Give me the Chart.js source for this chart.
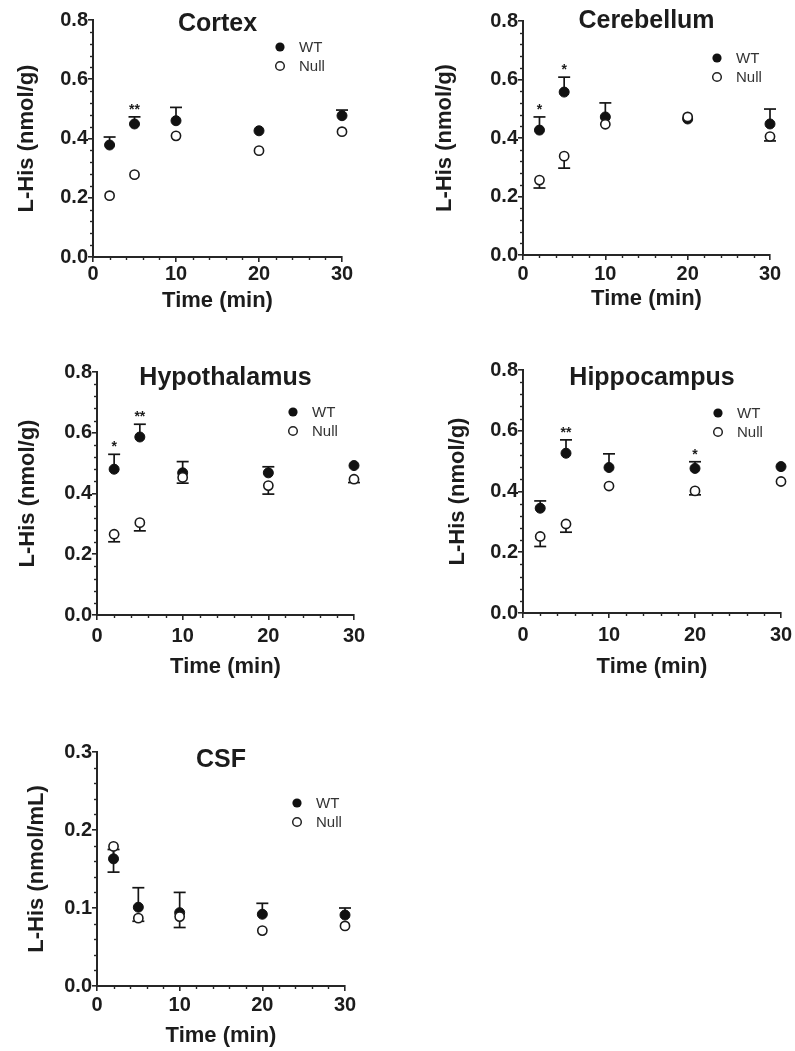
<!DOCTYPE html>
<html>
<head>
<meta charset="utf-8">
<script src="https://cdn.jsdelivr.net/npm/chart.js@4.4.1/dist/chart.umd.min.js"></script>
<style>
  html, body { margin: 0; padding: 0; background: #ffffff; }
  #wrap { position: relative; width: 795px; height: 1051px; overflow: hidden; }
  #wrap canvas { position: absolute; left: 0; top: 0; }
</style>
</head>
<body>
<div id="wrap">
  <canvas id="cCortex" width="795" height="1051"></canvas>
  <canvas id="cCerebellum" width="795" height="1051"></canvas>
  <canvas id="cHypothalamus" width="795" height="1051"></canvas>
  <canvas id="cHippocampus" width="795" height="1051"></canvas>
  <canvas id="cCSF" width="795" height="1051"></canvas>
</div>
<script>
// ---------------- DATA ----------------
const timePoints = [2, 5, 10, 20, 30];
const seriesNames = ['WT', 'Null'];
const xTickValues = [0, 10, 20, 30];

// Cortex (nmol/g)  (null = error bar hidden behind the marker)
const cortexWT       = [0.378, 0.449, 0.460, 0.426, 0.477];
const cortexWTSem    = [0.027, 0.024, 0.045, null, 0.019];
const cortexNull     = [0.207, 0.278, 0.409, 0.359, 0.423];
const cortexNullSem  = [null, null, null, null, null];
const cortexSig      = ['', '**', '', '', ''];

// Cerebellum (nmol/g)
const cerebellumWT      = [0.427, 0.557, 0.472, 0.465, 0.448];
const cerebellumWTSem   = [0.045, 0.051, 0.048, null, 0.051];
const cerebellumNull    = [0.256, 0.338, 0.447, 0.472, 0.405];
const cerebellumNullSem = [0.027, 0.041, null, null, 0.015];
const cerebellumSig     = ['*', '*', '', '', ''];

// Hypothalamus (nmol/g)
const hypothalamusWT      = [0.480, 0.586, 0.468, 0.468, 0.492];
const hypothalamusWTSem   = [0.049, 0.042, 0.037, 0.020, null];
const hypothalamusNull    = [0.266, 0.304, 0.453, 0.426, 0.447];
const hypothalamusNullSem = [0.025, 0.027, 0.019, 0.028, 0.011];
const hypothalamusSig     = ['*', '**', '', '', ''];

// Hippocampus (nmol/g)
const hippocampusWT      = [0.345, 0.526, 0.479, 0.476, 0.482];
const hippocampusWTSem   = [0.024, 0.044, 0.045, 0.022, null];
const hippocampusNull    = [0.252, 0.293, 0.418, 0.402, 0.433];
const hippocampusNullSem = [0.033, 0.027, null, 0.013, null];
const hippocampusSig     = ['', '**', '', '*', ''];

// CSF (nmol/mL)
const csfWT      = [0.163, 0.101, 0.094, 0.092, 0.091];
const csfWTSem   = [0.012, 0.025, 0.026, 0.014, 0.009];
const csfNull    = [0.179, 0.087, 0.089, 0.071, 0.077];
const csfNullSem = [0.033, 0.004, 0.014, null, null];
const csfSig     = ['', '', '', '', ''];

// ---------------- STYLE / LAYOUT ----------------
const FONT = "'Liberation Sans', Arial, Helvetica, sans-serif";
const INK = '#1c1c1c';
const AXIS = '#262626';

const panels = [
  { canvas: 'cCortex', title: 'Cortex', yTitle: 'L-His (nmol/g)', yMax: 0.8, yStep: 0.2, yMinor: 0.04,
    wt: cortexWT, wtSem: cortexWTSem, nul: cortexNull, nulSem: cortexNullSem, sig: cortexSig,
    area: { L: 93, R: 342, T: 20, B: 257 }, yTitleX: 27, xTitleY: 301, xTickPad: 0,
    titleY: 31, legend: { x: 280, y: 47 } },
  { canvas: 'cCerebellum', title: 'Cerebellum', yTitle: 'L-His (nmol/g)', yMax: 0.8, yStep: 0.2, yMinor: 0.04,
    wt: cerebellumWT, wtSem: cerebellumWTSem, nul: cerebellumNull, nulSem: cerebellumNullSem, sig: cerebellumSig,
    area: { L: 523, R: 770, T: 21, B: 255 }, yTitleX: 445, xTitleY: 299, xTickPad: 2,
    titleY: 28, legend: { x: 717, y: 58 } },
  { canvas: 'cHypothalamus', title: 'Hypothalamus', yTitle: 'L-His (nmol/g)', yMax: 0.8, yStep: 0.2, yMinor: 0.04,
    wt: hypothalamusWT, wtSem: hypothalamusWTSem, nul: hypothalamusNull, nulSem: hypothalamusNullSem, sig: hypothalamusSig,
    area: { L: 97, R: 354, T: 372, B: 615 }, yTitleX: 27.5, xTitleY: 667, xTickPad: 4,
    titleY: 385, legend: { x: 293, y: 412 } },
  { canvas: 'cHippocampus', title: 'Hippocampus', yTitle: 'L-His (nmol/g)', yMax: 0.8, yStep: 0.2, yMinor: 0.04,
    wt: hippocampusWT, wtSem: hippocampusWTSem, nul: hippocampusNull, nulSem: hippocampusNullSem, sig: hippocampusSig,
    area: { L: 523, R: 781, T: 370, B: 613 }, yTitleX: 457.5, xTitleY: 667, xTickPad: 5,
    titleY: 385, legend: { x: 718, y: 413 } },
  { canvas: 'cCSF', title: 'CSF', yTitle: 'L-His (nmol/mL)', yMax: 0.3, yStep: 0.1, yMinor: 0.02,
    wt: csfWT, wtSem: csfWTSem, nul: csfNull, nulSem: csfNullSem, sig: csfSig,
    area: { L: 97, R: 345, T: 752, B: 986 }, yTitleX: 37, xTitleY: 1036, xTickPad: 2,
    titleY: 767, legend: { x: 297, y: 803 } }
];

function seg(ctx, x1, y1, x2, y2) {
  ctx.beginPath(); ctx.moveTo(x1, y1); ctx.lineTo(x2, y2); ctx.stroke();
}

const decorPlugin = {
  id: 'decor',
  beforeDatasetsDraw(chart, args, o) {
    const { ctx, chartArea: ca, scales: { x, y } } = chart;
    ctx.save();
    ctx.strokeStyle = AXIS;
    ctx.lineWidth = 1.4;
    // minor ticks on y
    const nY = Math.round(y.max / o.yMinor);
    for (let i = 1; i < nY; i++) {
      const v = i * o.yMinor;
      const r = v / o.yStep;
      if (Math.abs(r - Math.round(r)) < 1e-6) continue;
      const py = Math.round(y.getPixelForValue(v)) + 0.5;
      seg(ctx, ca.left - 3, py, ca.left, py);
    }
    // minor ticks on x (every 2 min)
    for (let v = 2; v < 30; v += 2) {
      if (v % 10 === 0) continue;
      const px = Math.round(x.getPixelForValue(v)) + 0.5;
      seg(ctx, px, ca.bottom, px, ca.bottom + 3);
    }
    // error bars (WT upward, Null downward)
    ctx.strokeStyle = '#151515';
    ctx.lineWidth = 1.7;
    chart.data.datasets.forEach((ds) => {
      ds.data.forEach((pt, j) => {
        const e = ds.sem[j];
        if (!e) return;
        const px = x.getPixelForValue(pt.x);
        const p0 = y.getPixelForValue(pt.y);
        const p1 = y.getPixelForValue(pt.y + ds.errDir * e);
        seg(ctx, px, p0, px, p1);
        seg(ctx, px - 6, p1, px + 6, p1);
      });
    });
    ctx.restore();
  },
  afterDatasetsDraw(chart, args, o) {
    const { ctx, chartArea: ca, scales: { x, y } } = chart;
    const wtDs = chart.data.datasets.find(d => d.label === 'WT');
    ctx.save();
    ctx.fillStyle = INK;
    // significance stars above WT error bars
    ctx.font = 'bold 14px ' + FONT;
    ctx.textAlign = 'center';
    ctx.textBaseline = 'alphabetic';
    o.sig.forEach((s, j) => {
      if (!s) return;
      const pt = wtDs.data[j];
      const px = x.getPixelForValue(pt.x);
      const py = y.getPixelForValue(pt.y + (wtDs.sem[j] || 0));
      ctx.fillText(s, px, py - 3);
    });
    // panel title
    ctx.font = 'bold 25px ' + FONT;
    ctx.fillText(o.title, (ca.left + ca.right) / 2, o.titleY);
    // legend
    const lx = o.legend.x, ly = o.legend.y;
    ctx.beginPath(); ctx.arc(lx, ly, 4.6, 0, Math.PI * 2);
    ctx.fillStyle = '#111'; ctx.fill();
    ctx.beginPath(); ctx.arc(lx, ly + 19, 4.3, 0, Math.PI * 2);
    ctx.fillStyle = '#fff'; ctx.fill();
    ctx.strokeStyle = '#222'; ctx.lineWidth = 1.5; ctx.stroke();
    ctx.fillStyle = '#333';
    ctx.font = '15px ' + FONT;
    ctx.textAlign = 'left';
    ctx.textBaseline = 'middle';
    ctx.fillText(seriesNames[0], lx + 19, ly + 1);
    ctx.fillText(seriesNames[1], lx + 19, ly + 20);
    ctx.restore();
  }
};

panels.forEach((p) => {
  const a = p.area;
  const half = 22 * 1.2 / 2;
  const wtData = timePoints.map((t, i) => ({ x: t, y: p.wt[i] }));
  const nulData = timePoints.map((t, i) => ({ x: t, y: p.nul[i] }));
  new Chart(document.getElementById(p.canvas), {
    type: 'scatter',
    data: {
      datasets: [
        { label: 'WT', data: wtData, sem: p.wtSem, errDir: 1, order: 2,
          pointStyle: 'circle', pointRadius: 5, pointBackgroundColor: '#111', pointBorderColor: '#111',
          pointBorderWidth: 1, showLine: false, clip: false },
        { label: 'Null', data: nulData, sem: p.nulSem, errDir: -1, order: 1,
          pointStyle: 'circle', pointRadius: 4.6, pointBackgroundColor: '#fff', pointBorderColor: '#1a1a1a',
          pointBorderWidth: 1.6, showLine: false, clip: false }
      ]
    },
    options: {
      responsive: false,
      animation: false,
      events: [],
      layout: { padding: { left: p.yTitleX - half, top: a.T, right: 795 - a.R, bottom: 1051 - p.xTitleY - half } },
      plugins: {
        legend: { display: false },
        tooltip: { enabled: false },
        decor: { title: p.title, titleY: p.titleY, legend: p.legend, sig: p.sig, yMinor: p.yMinor, yStep: p.yStep }
      },
      scales: {
        x: {
          type: 'linear', min: 0, max: 30,
          afterBuildTicks: (s) => { s.ticks = xTickValues.map(v => ({ value: v })); },
          afterFit: (s) => { s.height = p.xTitleY + half - a.B; s.paddingLeft = 0; s.paddingRight = 0; },
          ticks: { autoSkip: false, maxRotation: 0, padding: p.xTickPad, color: INK,
                   font: { family: FONT, size: 20, weight: 'bold' } },
          grid: { display: true, drawOnChartArea: false, drawTicks: true, tickLength: 5, color: AXIS, lineWidth: 1.6 },
          border: { display: true, color: AXIS, width: 2 },
          title: { display: true, text: 'Time (min)', color: INK, padding: 0,
                   font: { family: FONT, size: 22, weight: 'bold' } }
        },
        y: {
          type: 'linear', min: 0, max: p.yMax,
          afterBuildTicks: (s) => {
            const n = Math.round(p.yMax / p.yStep);
            const t = [];
            for (let i = 0; i <= n; i++) t.push({ value: +(i * p.yStep).toFixed(2) });
            s.ticks = t;
          },
          afterFit: (s) => { s.width = a.L - (p.yTitleX - half); s.paddingTop = 0; s.paddingBottom = 0; },
          ticks: { padding: 0, color: INK, callback: (v) => Number(v).toFixed(1),
                   font: { family: FONT, size: 20, weight: 'bold' } },
          grid: { display: true, drawOnChartArea: false, drawTicks: true, tickLength: 5, color: AXIS, lineWidth: 1.6 },
          border: { display: true, color: AXIS, width: 2 },
          title: { display: true, text: p.yTitle, color: INK, padding: 0,
                   font: { family: FONT, size: 22, weight: 'bold' } }
        }
      }
    },
    plugins: [decorPlugin]
  });
});
</script>
</body>
</html>
